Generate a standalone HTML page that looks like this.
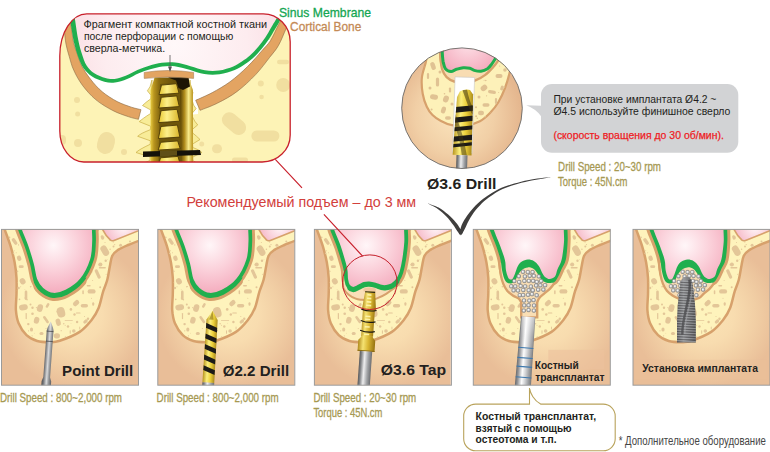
<!DOCTYPE html>
<html><head><meta charset="utf-8"><title>Sinus lift</title>
<style>html,body{margin:0;padding:0;background:#fff}svg{display:block}text{font-family:"Liberation Sans",sans-serif}</style>
</head><body>
<svg width="770" height="452" viewBox="0 0 770 452">
<defs>
<radialGradient id="gTan" gradientUnits="userSpaceOnUse" cx="72" cy="85" r="73">
 <stop offset="0" stop-color="#fbe4b5"/><stop offset="0.4" stop-color="#f8dcaf"/><stop offset="0.7" stop-color="#f1cea4"/><stop offset="1" stop-color="#e9be98"/>
</radialGradient>
<linearGradient id="gSteelD" x1="0" x2="1" y1="0" y2="0">
 <stop offset="0" stop-color="#4d4e50"/><stop offset="0.2" stop-color="#77787b"/><stop offset="0.5" stop-color="#d9dadb"/><stop offset="0.75" stop-color="#8e9093"/><stop offset="1" stop-color="#5f6062"/>
</linearGradient>
<radialGradient id="gPink" gradientUnits="userSpaceOnUse" cx="52" cy="16" r="52">
 <stop offset="0" stop-color="#fff6f8"/><stop offset="0.45" stop-color="#fbd3dc"/><stop offset="1" stop-color="#f3a6b9"/>
</radialGradient>
<radialGradient id="gPink2" gradientUnits="userSpaceOnUse" cx="122" cy="-2" r="22">
 <stop offset="0" stop-color="#fff6f8"/><stop offset="1" stop-color="#f5b4c4"/>
</radialGradient>
<linearGradient id="gSteel" x1="0" x2="1" y1="0" y2="0">
 <stop offset="0" stop-color="#58595b"/><stop offset="0.15" stop-color="#808285"/><stop offset="0.42" stop-color="#eeeeef"/><stop offset="0.72" stop-color="#a1a3a6"/><stop offset="1" stop-color="#6d6e71"/>
</linearGradient>
<linearGradient id="gOst" x1="0" x2="1" y1="0" y2="0">
 <stop offset="0" stop-color="#67686a"/><stop offset="0.16" stop-color="#97989b"/><stop offset="0.4" stop-color="#fdfdfd"/><stop offset="0.58" stop-color="#d6d7d9"/><stop offset="0.8" stop-color="#a1a3a6"/><stop offset="1" stop-color="#747577"/>
</linearGradient>
<linearGradient id="gFade" x1="0" x2="0" y1="0" y2="1">
 <stop offset="0" stop-color="#fff" stop-opacity="0.5"/><stop offset="0.45" stop-color="#fff" stop-opacity="0.15"/><stop offset="1" stop-color="#fff" stop-opacity="0"/>
</linearGradient>
<linearGradient id="gGold" x1="0" x2="1" y1="0" y2="0">
 <stop offset="0" stop-color="#b08a1c"/><stop offset="0.3" stop-color="#f5e272"/><stop offset="0.6" stop-color="#d9b632"/><stop offset="1" stop-color="#96720f"/>
</linearGradient>
<linearGradient id="gYel" x1="0" x2="1" y1="0" y2="0">
 <stop offset="0" stop-color="#b8951f"/><stop offset="0.35" stop-color="#fbee7c"/><stop offset="0.65" stop-color="#ecd03a"/><stop offset="1" stop-color="#a98a1c"/>
</linearGradient>
<linearGradient id="gImp" x1="0" x2="1" y1="0" y2="0">
 <stop offset="0" stop-color="#606062"/><stop offset="0.35" stop-color="#9a9b9d"/><stop offset="0.7" stop-color="#747476"/><stop offset="1" stop-color="#545456"/>
</linearGradient>
<radialGradient id="gGran" cx="0.4" cy="0.4" r="0.7">
 <stop offset="0" stop-color="#ffffff"/><stop offset="1" stop-color="#a9abae"/>
</radialGradient>
<clipPath id="pc"><rect x="0" y="0" width="137.0" height="155.8"/></clipPath>
<clipPath id="boneClip"><path d="M2.5,-3.0 C2.6,-2.4 2.2,-2.9 3.3,0.4 C4.4,3.7 7.5,11.4 9.1,16.8 C10.7,22.2 12.1,27.5 13.1,32.8 C14.1,38.1 14.7,43.3 15.0,48.6 C15.3,53.9 15.1,59.3 15.0,64.6 C14.9,69.9 14.1,75.7 14.4,80.6 C14.8,85.5 15.3,89.6 17.1,93.8 C18.9,98.0 21.9,102.8 25.0,105.8 C28.1,108.8 31.8,110.4 35.7,111.6 C39.6,112.8 44.5,112.8 48.3,112.8 C52.1,112.8 53.3,113.1 58.3,111.4 C63.3,109.7 72.9,106.0 78.2,102.5 C83.5,99.0 86.9,94.6 90.1,90.6 C93.2,86.6 95.2,83.4 97.1,78.6 C99.0,73.8 100.2,66.7 101.7,62.0 C103.2,57.3 104.7,54.5 105.8,50.4 C106.9,46.2 107.5,41.1 108.3,37.1 C109.1,33.1 109.4,29.1 110.8,26.3 C112.2,23.5 114.0,22.3 116.6,20.5 C119.2,18.7 122.8,17.2 126.5,15.6 C130.2,14.0 136.9,11.5 139.0,10.7 L139,-3 Z"/></clipPath>
<g id="base">
 <rect x="0" y="0" width="137.0" height="155.8" fill="url(#gTan)"/>
 <path d="M2.5,-3.0 C2.6,-2.4 2.2,-2.9 3.3,0.4 C4.4,3.7 7.5,11.4 9.1,16.8 C10.7,22.2 12.1,27.5 13.1,32.8 C14.1,38.1 14.7,43.3 15.0,48.6 C15.3,53.9 15.1,59.3 15.0,64.6 C14.9,69.9 14.1,75.7 14.4,80.6 C14.8,85.5 15.3,89.6 17.1,93.8 C18.9,98.0 21.9,102.8 25.0,105.8 C28.1,108.8 31.8,110.4 35.7,111.6 C39.6,112.8 44.5,112.8 48.3,112.8 C52.1,112.8 53.3,113.1 58.3,111.4 C63.3,109.7 72.9,106.0 78.2,102.5 C83.5,99.0 86.9,94.6 90.1,90.6 C93.2,86.6 95.2,83.4 97.1,78.6 C99.0,73.8 100.2,66.7 101.7,62.0 C103.2,57.3 104.7,54.5 105.8,50.4 C106.9,46.2 107.5,41.1 108.3,37.1 C109.1,33.1 109.4,29.1 110.8,26.3 C112.2,23.5 114.0,22.3 116.6,20.5 C119.2,18.7 122.8,17.2 126.5,15.6 C130.2,14.0 136.9,11.5 139.0,10.7 L139,-3 Z" fill="#fef3bc" stroke="#d7a16c" stroke-width="2.5"/>
 <g clip-path="url(#boneClip)" fill="#e3c698">
 <rect x="11.4" y="8.3" width="3.4" height="7.5" rx="1.7" transform="rotate(-35 13.1 12.1)"/>
<rect x="15.5" y="26.1" width="4.2" height="5.5" rx="2.1" transform="rotate(-20 17.6 28.8)"/>
<rect x="17.2" y="35.9" width="5.0" height="2.8" rx="1.4" transform="rotate(0 19.7 37.3)"/>
<rect x="18.4" y="48.6" width="5.5" height="6.5" rx="2.8" transform="rotate(-30 21.1 51.9)"/>
<rect x="23.2" y="61.2" width="2.6" height="9.5" rx="1.3" transform="rotate(0 24.5 65.9)"/>
<rect x="17.5" y="75.1" width="8.8" height="5.7" rx="2.9" transform="rotate(-10 21.9 77.9)"/>
<rect x="35.6" y="74.8" width="5.7" height="7.8" rx="2.9" transform="rotate(15 38.5 78.7)"/>
<rect x="55.5" y="77.7" width="8.0" height="10.4" rx="4.0" transform="rotate(-15 59.5 82.9)"/>
<rect x="71.1" y="71.4" width="7.0" height="4.6" rx="2.3" transform="rotate(-45 74.6 73.7)"/>
<rect x="79.2" y="74.5" width="7.3" height="3.6" rx="1.8" transform="rotate(0 82.9 76.3)"/>
<rect x="32.5" y="87.5" width="5.2" height="6.8" rx="2.6" transform="rotate(15 35.1 90.9)"/>
<rect x="43.2" y="86.1" width="2.6" height="8.3" rx="1.3" transform="rotate(-35 44.5 90.3)"/>
<rect x="54.4" y="89.2" width="4.7" height="7.3" rx="2.4" transform="rotate(-15 56.7 92.9)"/>
<rect x="52.3" y="103.8" width="6.2" height="5.2" rx="2.6" transform="rotate(0 55.4 106.4)"/>
<rect x="70.5" y="99.8" width="3.6" height="3.6" rx="1.8" transform="rotate(0 72.3 101.6)"/>
<rect x="90.7" y="72.8" width="2.0" height="3.6" rx="1.0" transform="rotate(0 91.7 74.6)"/>
<rect x="74.4" y="83.0" width="4.7" height="1.2" rx="0.6" transform="rotate(0 76.7 83.6)"/>
<rect x="63.1" y="90.5" width="8.3" height="0.8" rx="0.4" transform="rotate(0 67.3 90.9)"/>
<rect x="24.1" y="83.6" width="1.2" height="6.2" rx="0.6" transform="rotate(0 24.7 86.7)"/>
<rect x="68.2" y="100.8" width="1.0" height="3.6" rx="0.5" transform="rotate(0 68.7 102.6)"/>
<rect x="77.8" y="97.1" width="0.9" height="3.0" rx="0.5" transform="rotate(0 78.2 98.6)"/>
<rect x="100.0" y="15.8" width="6.5" height="11.0" rx="3.2" transform="rotate(-30 103.3 21.3)"/>
<rect x="99.4" y="5.8" width="3.0" height="4.5" rx="1.5" transform="rotate(-20 100.9 8.0)"/>
<rect x="97.4" y="37.6" width="7.0" height="1.6" rx="0.8" transform="rotate(0 100.9 38.4)"/>
<rect x="94.6" y="39.6" width="3.2" height="10.0" rx="1.6" transform="rotate(-25 96.2 44.6)"/>
<rect x="86.1" y="59.8" width="8.0" height="4.4" rx="2.2" transform="rotate(0 90.1 62.0)"/>
<rect x="85.2" y="55.5" width="4.0" height="1.5" rx="0.8" transform="rotate(0 87.2 56.2)"/>
<rect x="80.8" y="60.8" width="1.5" height="4.0" rx="0.8" transform="rotate(0 81.5 62.8)"/>
<rect x="44.8" y="73.5" width="2.5" height="5.0" rx="1.2" transform="rotate(30 46.0 76.0)"/>
<rect x="28.5" y="98.0" width="3.0" height="4.0" rx="1.5" transform="rotate(0 30.0 100.0)"/>
<rect x="82.5" y="89.5" width="3.0" height="5.0" rx="1.5" transform="rotate(50 84.0 92.0)"/>
<rect x="38.0" y="102.5" width="4.0" height="3.0" rx="1.5" transform="rotate(0 40.0 104.0)"/>
<circle cx="17.1" cy="58.6" r="1.2"/>
<circle cx="29.0" cy="75.2" r="1.0"/>
<circle cx="69.4" cy="80.0" r="1.3"/>
<circle cx="73.0" cy="85.1" r="1.2"/>
<circle cx="31.0" cy="78.4" r="1.2"/>
<circle cx="31.0" cy="84.3" r="1.3"/>
<circle cx="26.8" cy="94.7" r="1.2"/>
<circle cx="75.6" cy="92.6" r="1.2"/>
<circle cx="86.5" cy="89.3" r="1.2"/>
<circle cx="66.5" cy="97.1" r="1.2"/>
<circle cx="98.9" cy="35.1" r="2.0"/>
<circle cx="119.1" cy="15.8" r="1.5"/>
<circle cx="112.0" cy="17.2" r="1.0"/>
<circle cx="128.5" cy="12.2" r="1.0"/>
<circle cx="104.2" cy="31.3" r="1.2"/>
<circle cx="98.7" cy="57.8" r="1.0"/>
<circle cx="8.0" cy="8.0" r="0.8"/>
<circle cx="12.0" cy="24.0" r="0.8"/>
<circle cx="16.0" cy="42.0" r="0.8"/>
<circle cx="18.0" cy="70.0" r="0.8"/>
<circle cx="63.8" cy="62.7" r="0.6"/>
<circle cx="63.7" cy="95.8" r="0.5"/>
<circle cx="29.0" cy="57.3" r="0.7"/>
<circle cx="108.1" cy="10.5" r="0.5"/>
<circle cx="23.4" cy="60.3" r="0.4"/>
<circle cx="82.4" cy="44.4" r="0.6"/>
<circle cx="90.0" cy="68.9" r="0.5"/>
<circle cx="86.0" cy="93.2" r="0.4"/>
<circle cx="12.7" cy="21.3" r="0.5"/>
<circle cx="83.0" cy="87.1" r="0.5"/>
<circle cx="62.3" cy="94.4" r="0.7"/>
<circle cx="35.4" cy="32.9" r="0.4"/>
<circle cx="91.1" cy="51.2" r="0.5"/>
<circle cx="57.9" cy="61.7" r="0.4"/>
<circle cx="97.0" cy="35.3" r="0.5"/>
<circle cx="71.7" cy="3.3" r="0.7"/>
<circle cx="104.6" cy="44.8" r="0.5"/>
<circle cx="55.2" cy="107.3" r="0.4"/>
<circle cx="32.8" cy="103.8" r="0.4"/>
<circle cx="66.1" cy="109.8" r="0.6"/>
<circle cx="59.6" cy="63.4" r="0.5"/>
<circle cx="106.2" cy="30.2" r="0.4"/>
<circle cx="45.5" cy="1.7" r="0.6"/>
<circle cx="103.5" cy="13.2" r="0.5"/>
<circle cx="96.9" cy="1.2" r="0.6"/>
<circle cx="108.6" cy="19.9" r="0.7"/>
<circle cx="29.5" cy="57.0" r="0.5"/>
<circle cx="59.5" cy="43.0" r="0.6"/>
<circle cx="59.7" cy="23.8" r="0.5"/>
<circle cx="117.4" cy="109.2" r="0.7"/>
<circle cx="44.5" cy="99.1" r="0.5"/>
<circle cx="29.3" cy="111.5" r="0.7"/>
<circle cx="88.4" cy="11.2" r="0.5"/>
<circle cx="32.7" cy="28.9" r="0.7"/>
<circle cx="47.8" cy="33.2" r="0.4"/>
<circle cx="14.7" cy="23.4" r="0.5"/>
<circle cx="7.0" cy="41.3" r="0.7"/>
<circle cx="63.9" cy="107.4" r="0.6"/>
<circle cx="113.2" cy="15.2" r="0.6"/>
<circle cx="28.8" cy="17.3" r="0.5"/>
<circle cx="111.3" cy="27.9" r="0.5"/>
<circle cx="25.6" cy="70.4" r="0.7"/>
<circle cx="30.6" cy="106.4" r="0.6"/>
<circle cx="83.5" cy="47.2" r="0.4"/>
<circle cx="19.2" cy="57.4" r="0.5"/>
<circle cx="36.0" cy="78.9" r="0.5"/>
<circle cx="59.7" cy="101.3" r="0.6"/>
<circle cx="43.1" cy="19.6" r="0.4"/>
<circle cx="21.4" cy="53.7" r="0.7"/>
<circle cx="84.9" cy="31.4" r="0.5"/>
<circle cx="102.4" cy="7.7" r="0.6"/>
<circle cx="62.9" cy="6.8" r="0.5"/>
<circle cx="41.7" cy="59.5" r="0.5"/>
<circle cx="17.0" cy="15.5" r="0.6"/>
<circle cx="132.5" cy="73.6" r="0.7"/>
<circle cx="81.0" cy="15.7" r="0.4"/>
<circle cx="125.1" cy="53.2" r="0.5"/>
<circle cx="96.1" cy="107.8" r="0.4"/>
<circle cx="82.8" cy="8.4" r="0.4"/>
<circle cx="100.0" cy="35.7" r="0.4"/>
<circle cx="14.8" cy="61.2" r="0.4"/>
<circle cx="122.0" cy="82.6" r="0.5"/>
<circle cx="108.1" cy="102.5" r="0.5"/>
<circle cx="16.0" cy="53.0" r="0.4"/>
<circle cx="118.2" cy="46.7" r="0.4"/>
<circle cx="117.3" cy="64.2" r="0.7"/>
<circle cx="91.1" cy="42.5" r="0.4"/>
<circle cx="84.2" cy="9.0" r="0.4"/>
<circle cx="134.1" cy="98.5" r="0.5"/>
<circle cx="55.5" cy="82.3" r="0.7"/>
<circle cx="64.5" cy="51.8" r="0.7"/>
<circle cx="15.9" cy="84.0" r="0.4"/>
<circle cx="45.3" cy="9.8" r="0.4"/>
<circle cx="34.9" cy="78.2" r="0.6"/>
<circle cx="106.4" cy="73.9" r="0.6"/>
<circle cx="38.3" cy="1.3" r="0.5"/>
<circle cx="23.6" cy="68.5" r="0.7"/>
<circle cx="27.0" cy="101.4" r="0.6"/>
<circle cx="69.8" cy="27.0" r="0.6"/>
<circle cx="91.6" cy="22.2" r="0.6"/>
<circle cx="109.5" cy="84.5" r="0.5"/>
<circle cx="119.4" cy="43.1" r="0.7"/>
<circle cx="124.7" cy="23.5" r="0.5"/>
<circle cx="69.5" cy="93.8" r="0.4"/>
<circle cx="97.5" cy="106.4" r="0.5"/>
<circle cx="111.8" cy="12.6" r="0.6"/>
<circle cx="40.8" cy="24.0" r="0.6"/>
<circle cx="54.7" cy="58.2" r="0.5"/>
<circle cx="98.1" cy="94.3" r="0.7"/>
<circle cx="63.8" cy="8.4" r="0.4"/>
 </g>
 <path d="M100.5,-3 L101,0 C103,4 107,9 109,10.8 C110,11.6 111,11.6 112.5,11 L139,0.5 L139,-3 Z" fill="url(#gPink2)" stroke="#d7a16c" stroke-width="1.6"/>
</g>
<clipPath id="botA"><rect x="32" y="48" width="53" height="36"/></clipPath>
<g id="sinA">
 <path d="M17.7,-4.0 C17.9,-3.2 17.4,-2.9 18.6,0.6 C19.8,4.1 23.1,11.4 25.1,17.1 C27.1,22.8 29.0,29.3 30.5,34.8 C32.0,40.3 32.2,46.1 33.9,50.3 C35.6,54.5 37.5,57.5 40.5,60.0 C43.5,62.5 47.5,65.0 51.6,65.3 C55.7,65.6 60.1,64.6 64.9,62.1 C69.7,59.6 76.0,55.6 80.2,50.3 C84.5,45.0 88.4,36.7 90.4,30.4 C92.5,24.1 92.2,17.7 92.5,12.7 C92.8,7.7 92.3,3.4 92.3,0.6 C92.3,-2.2 92.3,-3.2 92.3,-4.0 Z" fill="none" stroke="#d7a16c" stroke-width="9.4"/>
 <g clip-path="url(#botA)"><path d="M17.7,-4.0 C17.9,-3.2 17.4,-2.9 18.6,0.6 C19.8,4.1 23.1,11.4 25.1,17.1 C27.1,22.8 29.0,29.3 30.5,34.8 C32.0,40.3 32.2,46.1 33.9,50.3 C35.6,54.5 37.5,57.5 40.5,60.0 C43.5,62.5 47.5,65.0 51.6,65.3 C55.7,65.6 60.1,64.6 64.9,62.1 C69.7,59.6 76.0,55.6 80.2,50.3 C84.5,45.0 88.4,36.7 90.4,30.4 C92.5,24.1 92.2,17.7 92.5,12.7 C92.8,7.7 92.3,3.4 92.3,0.6 C92.3,-2.2 92.3,-3.2 92.3,-4.0 Z" fill="none" stroke="#d7a16c" stroke-width="9.4" transform="translate(0,1.6)"/>
 <path d="M17.7,-4.0 C17.9,-3.2 17.4,-2.9 18.6,0.6 C19.8,4.1 23.1,11.4 25.1,17.1 C27.1,22.8 29.0,29.3 30.5,34.8 C32.0,40.3 32.2,46.1 33.9,50.3 C35.6,54.5 37.5,57.5 40.5,60.0 C43.5,62.5 47.5,65.0 51.6,65.3 C55.7,65.6 60.1,64.6 64.9,62.1 C69.7,59.6 76.0,55.6 80.2,50.3 C84.5,45.0 88.4,36.7 90.4,30.4 C92.5,24.1 92.2,17.7 92.5,12.7 C92.8,7.7 92.3,3.4 92.3,0.6 C92.3,-2.2 92.3,-3.2 92.3,-4.0 Z" fill="none" stroke="#20af4e" stroke-width="3.7" transform="translate(0,1.5)"/></g>
 <path d="M17.7,-4.0 C17.9,-3.2 17.4,-2.9 18.6,0.6 C19.8,4.1 23.1,11.4 25.1,17.1 C27.1,22.8 29.0,29.3 30.5,34.8 C32.0,40.3 32.2,46.1 33.9,50.3 C35.6,54.5 37.5,57.5 40.5,60.0 C43.5,62.5 47.5,65.0 51.6,65.3 C55.7,65.6 60.1,64.6 64.9,62.1 C69.7,59.6 76.0,55.6 80.2,50.3 C84.5,45.0 88.4,36.7 90.4,30.4 C92.5,24.1 92.2,17.7 92.5,12.7 C92.8,7.7 92.3,3.4 92.3,0.6 C92.3,-2.2 92.3,-3.2 92.3,-4.0 Z" fill="url(#gPink)" stroke="#20af4e" stroke-width="3.7"/>
</g>
<clipPath id="botB"><rect x="33" y="46" width="52" height="30"/></clipPath>
<g id="sinB">
 <path d="M17.9,-4.0 C17.9,-3.2 16.8,-2.9 17.9,0.6 C19.0,4.1 22.4,11.4 24.4,17.1 C26.4,22.8 28.6,30.6 29.8,34.8 C31.0,39.0 31.0,39.5 31.3,42.1 C31.6,44.7 31.4,47.7 31.8,50.2 C32.2,52.7 32.8,55.4 34.0,56.9 C35.2,58.4 37.1,59.4 38.9,59.4 C40.7,59.4 43.2,57.7 45.0,56.9 C46.8,56.1 48.2,55.0 49.8,54.5 C51.4,54.0 52.9,53.8 54.7,53.9 C56.5,54.0 58.8,54.5 60.8,55.1 C62.8,55.7 65.1,56.9 66.9,57.3 C68.7,57.7 70.0,57.8 71.8,57.5 C73.6,57.2 75.8,56.9 77.8,55.7 C79.8,54.5 82.1,52.3 83.6,50.2 C85.1,48.1 86.0,46.2 87.0,42.9 C88.0,39.6 88.9,35.4 89.7,30.4 C90.5,25.4 91.5,17.7 91.8,12.7 C92.1,7.7 91.6,3.4 91.6,0.6 C91.6,-2.2 91.6,-3.2 91.6,-4.0 Z" fill="none" stroke="#d7a16c" stroke-width="9.4"/>
 <path d="M28.0,40.0 C28.1,41.7 28.3,46.9 28.5,50.0 C28.7,53.1 28.2,56.4 29.1,58.9 C30.0,61.4 32.0,63.3 34.0,65.0 C36.0,66.7 39.1,68.3 41.3,69.2 C43.5,70.1 45.1,70.1 47.4,70.4 C49.7,70.7 52.6,71.0 55.0,70.8 C57.4,70.6 59.2,70.3 62.0,69.2 C64.8,68.1 68.5,66.5 71.8,64.4 C75.0,62.3 79.1,59.1 81.5,56.4 C83.9,53.7 84.9,50.7 86.0,48.0 C87.1,45.3 87.7,41.3 88.0,40.0 Z" fill="#f9dfb8" stroke="#d7a16c" stroke-width="2"/>
 <g clip-path="url(#botB)"><path d="M17.9,-4.0 C17.9,-3.2 16.8,-2.9 17.9,0.6 C19.0,4.1 22.4,11.4 24.4,17.1 C26.4,22.8 28.6,30.6 29.8,34.8 C31.0,39.0 31.0,39.5 31.3,42.1 C31.6,44.7 31.4,47.7 31.8,50.2 C32.2,52.7 32.8,55.4 34.0,56.9 C35.2,58.4 37.1,59.4 38.9,59.4 C40.7,59.4 43.2,57.7 45.0,56.9 C46.8,56.1 48.2,55.0 49.8,54.5 C51.4,54.0 52.9,53.8 54.7,53.9 C56.5,54.0 58.8,54.5 60.8,55.1 C62.8,55.7 65.1,56.9 66.9,57.3 C68.7,57.7 70.0,57.8 71.8,57.5 C73.6,57.2 75.8,56.9 77.8,55.7 C79.8,54.5 82.1,52.3 83.6,50.2 C85.1,48.1 86.0,46.2 87.0,42.9 C88.0,39.6 88.9,35.4 89.7,30.4 C90.5,25.4 91.5,17.7 91.8,12.7 C92.1,7.7 91.6,3.4 91.6,0.6 C91.6,-2.2 91.6,-3.2 91.6,-4.0 Z" fill="none" stroke="#20af4e" stroke-width="3.8" transform="translate(0,1.5)"/></g>
 <path d="M17.9,-4.0 C17.9,-3.2 16.8,-2.9 17.9,0.6 C19.0,4.1 22.4,11.4 24.4,17.1 C26.4,22.8 28.6,30.6 29.8,34.8 C31.0,39.0 31.0,39.5 31.3,42.1 C31.6,44.7 31.4,47.7 31.8,50.2 C32.2,52.7 32.8,55.4 34.0,56.9 C35.2,58.4 37.1,59.4 38.9,59.4 C40.7,59.4 43.2,57.7 45.0,56.9 C46.8,56.1 48.2,55.0 49.8,54.5 C51.4,54.0 52.9,53.8 54.7,53.9 C56.5,54.0 58.8,54.5 60.8,55.1 C62.8,55.7 65.1,56.9 66.9,57.3 C68.7,57.7 70.0,57.8 71.8,57.5 C73.6,57.2 75.8,56.9 77.8,55.7 C79.8,54.5 82.1,52.3 83.6,50.2 C85.1,48.1 86.0,46.2 87.0,42.9 C88.0,39.6 88.9,35.4 89.7,30.4 C90.5,25.4 91.5,17.7 91.8,12.7 C92.1,7.7 91.6,3.4 91.6,0.6 C91.6,-2.2 91.6,-3.2 91.6,-4.0 Z" fill="url(#gPink)" stroke="#20af4e" stroke-width="3.8"/>
</g>
<g id="gr"><rect x="-1.7" y="-1.7" width="3.4" height="3.4" rx="1" fill="url(#gGran)" stroke="#7b7d80" stroke-width="0.7"/></g>

<radialGradient id="gCallPink" gradientUnits="userSpaceOnUse" cx="175" cy="45" r="120">
 <stop offset="0" stop-color="#fff8f9"/><stop offset="0.6" stop-color="#fdecef"/><stop offset="1" stop-color="#fadbe1"/>
</radialGradient>
<linearGradient id="gTapBody" gradientUnits="userSpaceOnUse" x1="150.6" x2="192.9" y1="0" y2="0">
 <stop offset="0" stop-color="#e6c93e"/><stop offset="0.08" stop-color="#b8941e"/><stop offset="0.2" stop-color="#8a6c10"/><stop offset="0.7" stop-color="#5a4406"/><stop offset="0.8" stop-color="#b08c1c"/><stop offset="0.9" stop-color="#f9ec8c"/><stop offset="1" stop-color="#b8921c"/>
</linearGradient>
<linearGradient id="gCup" x1="0" x2="1" y1="0" y2="0">
 <stop offset="0" stop-color="#e8c832"/><stop offset="0.4" stop-color="#fdf08a"/><stop offset="1" stop-color="#d9b428"/>
</linearGradient>
<radialGradient id="gTanC" gradientUnits="userSpaceOnUse" cx="455" cy="115" r="66">
 <stop offset="0" stop-color="#fbe5bd"/><stop offset="0.6" stop-color="#f1cfa6"/><stop offset="1" stop-color="#e5b78f"/>
</radialGradient>
<radialGradient id="gPinkC" gradientUnits="userSpaceOnUse" cx="468" cy="42" r="34">
 <stop offset="0" stop-color="#fde3e9"/><stop offset="1" stop-color="#f4a9bb"/>
</radialGradient>
</defs>
<rect width="770" height="452" fill="#fff"/>
<g transform="translate(1.5,229.4)"><g clip-path="url(#pc)"><rect x="0" y="0" width="3" height="155.8" fill="#e9be98"/><use href="#base"/><use href="#sinA"/>
<g transform="translate(49.3,92) rotate(4.2)">
 <path d="M0,0 L2.6,6 L3.4,9 L3.4,56 L4.8,60 L4.8,66 L-4.8,66 L-4.8,60 L-3.4,56 L-3.4,9 L-2.6,6 Z" fill="url(#gSteelD)"/>
 <path d="M-3.4,10 H3.4 M-3.4,20 H3.4" stroke="#444" stroke-width="0.7"/>
</g></g><rect x="0" y="0" width="137.0" height="155.8" fill="none" stroke="#9a9a9a" stroke-width="1"/></g>
<g transform="translate(157.8,229.4)"><g clip-path="url(#pc)"><rect x="0" y="0" width="3" height="155.8" fill="#e9be98"/><use href="#base"/><use href="#sinA"/>
<g transform="translate(54.8,81.4) rotate(3.4)"><path d="M0,0 L5.6,9 L5.9,72 L-5.9,72 L-5.6,9 Z" fill="url(#gYel)"/><clipPath id="dc72"><path d="M0,0 L5.6,9 L5.9,72 L-5.9,72 L-5.6,9 Z"/></clipPath><g clip-path="url(#dc72)" fill="#1c1a17"><path d="M-7,12.0 L7,17.2 L7,22.0 L-7,16.8 Z"/><path d="M-7,22.6 L7,27.8 L7,32.6 L-7,27.400000000000002 Z"/><path d="M-7,33.2 L7,38.400000000000006 L7,43.2 L-7,38.0 Z"/><path d="M-7,43.8 L7,49.0 L7,53.8 L-7,48.599999999999994 Z"/><path d="M-7,54.4 L7,59.6 L7,64.4 L-7,59.199999999999996 Z"/><path d="M0,0 L1.5,9 L-3,9Z" fill="#8a6d10" opacity="0.6"/></g><rect x="-5.9" y="72" width="11.8" height="5" fill="url(#gSteel)"/></g></g><rect x="0" y="0" width="137.0" height="155.8" fill="none" stroke="#9a9a9a" stroke-width="1"/></g>
<g transform="translate(314.4,229.4)"><g clip-path="url(#pc)"><rect x="0" y="0" width="3" height="155.8" fill="#e9be98"/><use href="#base" transform="translate(-0.7,0)"/><use href="#sinB"/>
<path d="M49,59 Q55.4,57.2 61.6,59 L61.4,62 L49.2,62 Z" fill="#efc7a0"/>
<g transform="translate(55.8,62.1) rotate(4)">
<path d="M-5,0 L5,0 L7,18 L6,19 L6,45 L-6,45 L-6,19 L-7,18 Z" fill="url(#gGold)"/>
<path d="M-2.5,3.5 h4 M-2.6,7 h4.2 M-2.8,10.5 h4.6 M-3,14 h5 M-3,25 h5 M-3,28 h5 M-3,35.5 h5 M-3,43 h5" stroke="#fff7b0" stroke-width="1.6" opacity="0.9"/>
<path d="M-5,0.6 H5" stroke="#2a2412" stroke-width="1.2"/>
<path d="M-7.6,18.2 q7.6,2.4 15.2,0.3 M-7.4,29.6 q7.4,2.4 14.8,0.3 M-7.4,39.4 q7.4,2.4 14.8,0.3" fill="none" stroke="#1a1710" stroke-width="1.1"/>
<path d="M-6,46 Q-6,44.5 -4.5,44.5 L4.5,44.5 Q6,44.5 6,46 L8.5,49 L8.5,60 L-8.5,60 L-8.5,49 Z" fill="url(#gGold)"/>
<path d="M-8.5,59.5 H8.5" stroke="#8a6a12" stroke-width="1"/>
<rect x="-6.2" y="60" width="12.4" height="40" fill="url(#gSteel)"/>
</g>
<circle cx="55.4" cy="52.8" r="27.3" fill="none" stroke="#c4202b" stroke-width="1"/></g><rect x="0" y="0" width="137.0" height="155.8" fill="none" stroke="#9a9a9a" stroke-width="1"/></g>
<g transform="translate(473.3,229.4)"><g clip-path="url(#pc)"><rect x="0" y="0" width="3" height="155.8" fill="#e9be98"/><use href="#base"/><path d="M16.6,-4.0 C16.6,-3.2 15.5,-2.9 16.6,0.6 C17.7,4.1 21.3,12.1 23.1,17.1 C24.9,22.1 26.3,26.7 27.2,30.6 C28.1,34.5 28.1,37.5 28.7,40.5 C29.3,43.5 29.9,46.4 30.7,48.5 C31.5,50.6 32.5,52.1 33.6,53.0 C34.8,53.9 36.3,54.2 37.6,54.0 C38.9,53.8 40.4,52.9 41.6,51.5 C42.8,50.1 43.4,47.3 44.6,45.5 C45.8,43.7 47.0,41.8 48.6,40.5 C50.2,39.2 52.5,38.2 54.5,38.0 C56.5,37.8 58.8,38.4 60.5,39.5 C62.2,40.6 63.2,42.7 64.5,44.5 C65.8,46.3 67.2,49.1 68.5,50.5 C69.8,51.9 71.0,52.5 72.5,53.0 C74.0,53.5 75.9,53.7 77.4,53.5 C78.9,53.3 80.4,53.2 81.7,52.0 C83.0,50.8 84.1,48.6 85.2,46.5 C86.3,44.4 87.1,42.2 88.3,39.5 C89.5,36.8 91.5,34.9 92.5,30.4 C93.5,25.9 94.1,17.7 94.3,12.7 C94.6,7.7 94.2,3.4 94.2,0.6 C94.1,-2.2 94.2,-3.2 94.2,-4.0 Z" fill="none" stroke="#d7a16c" stroke-width="6"/>
 <path d="M26.0,32.0 C26.2,34.2 26.8,41.8 27.5,45.5 C28.2,49.2 28.9,51.9 30.0,54.5 C31.1,57.1 32.2,59.4 33.9,61.4 C35.5,63.4 38.0,65.1 39.9,66.4 C41.8,67.7 44.2,68.1 45.5,69.2 C46.8,70.3 47.5,72.4 47.9,73.0 L47.9,88 L63.9,88 L63.9,73 L63.9,73.0 C64.2,72.3 64.8,70.0 66.0,68.6 C67.2,67.1 69.0,65.8 70.8,64.3 C72.5,62.8 74.9,61.0 76.5,59.4 C78.1,57.8 79.2,56.7 80.5,54.5 C81.8,52.3 83.4,48.8 84.5,46.0 C85.6,43.2 86.6,39.3 87.0,38.0 Z" fill="#f9deb4" stroke="#d7a16c" stroke-width="2.4"/>
 <path d="M16.6,-4.0 C16.6,-3.2 15.5,-2.9 16.6,0.6 C17.7,4.1 21.3,12.1 23.1,17.1 C24.9,22.1 26.3,26.7 27.2,30.6 C28.1,34.5 28.1,37.5 28.7,40.5 C29.3,43.5 29.9,46.4 30.7,48.5 C31.5,50.6 32.5,52.1 33.6,53.0 C34.8,53.9 36.3,54.2 37.6,54.0 C38.9,53.8 40.4,52.9 41.6,51.5 C42.8,50.1 43.4,47.3 44.6,45.5 C45.8,43.7 47.0,41.8 48.6,40.5 C50.2,39.2 52.5,38.2 54.5,38.0 C56.5,37.8 58.8,38.4 60.5,39.5 C62.2,40.6 63.2,42.7 64.5,44.5 C65.8,46.3 67.2,49.1 68.5,50.5 C69.8,51.9 71.0,52.5 72.5,53.0 C74.0,53.5 75.9,53.7 77.4,53.5 C78.9,53.3 80.4,53.2 81.7,52.0 C83.0,50.8 84.1,48.6 85.2,46.5 C86.3,44.4 87.1,42.2 88.3,39.5 C89.5,36.8 91.5,34.9 92.5,30.4 C93.5,25.9 94.1,17.7 94.3,12.7 C94.6,7.7 94.2,3.4 94.2,0.6 C94.1,-2.2 94.2,-3.2 94.2,-4.0 Z" fill="#20af4e"/>
 <path d="M20.6,-4.0 C20.6,-3.2 19.5,-2.9 20.6,0.6 C21.7,4.1 25.3,12.1 27.1,17.1 C28.9,22.1 30.7,26.7 31.6,30.6 C32.6,34.5 32.1,37.7 32.6,40.5 C33.1,43.3 33.9,45.9 34.6,47.5 C35.3,49.1 35.9,49.7 36.6,50.0 C37.4,50.3 38.3,50.4 39.1,49.5 C39.9,48.6 40.7,46.7 41.6,44.5 C42.5,42.3 43.4,38.6 44.6,36.5 C45.8,34.4 47.0,33.2 48.6,32.1 C50.2,31.0 52.5,30.2 54.5,30.1 C56.5,30.0 58.7,30.5 60.5,31.6 C62.3,32.7 64.0,34.4 65.5,36.5 C67.0,38.6 68.3,42.6 69.5,44.5 C70.7,46.4 71.3,47.2 72.5,48.0 C73.7,48.8 74.9,49.7 76.4,49.5 C77.9,49.3 80.4,48.7 81.7,47.0 C83.0,45.3 83.2,42.3 84.3,39.5 C85.4,36.7 87.2,34.9 88.3,30.4 C89.4,25.9 90.3,17.7 90.7,12.7 C91.0,7.7 90.5,3.4 90.5,0.6 C90.4,-2.2 90.5,-3.2 90.5,-4.0 Z" fill="url(#gPink)"/><use href="#gr" x="49.7" y="42.4"/><use href="#gr" x="54.6" y="42.7"/><use href="#gr" x="59.3" y="42.7"/><use href="#gr" x="45.5" y="46.9"/><use href="#gr" x="51.6" y="47.1"/><use href="#gr" x="56.4" y="46.4"/><use href="#gr" x="60.6" y="46.5"/><use href="#gr" x="65.5" y="47.0"/><use href="#gr" x="41.0" y="51.6"/><use href="#gr" x="45.9" y="52.6"/><use href="#gr" x="51.1" y="51.5"/><use href="#gr" x="55.6" y="51.5"/><use href="#gr" x="59.9" y="51.5"/><use href="#gr" x="63.5" y="52.5"/><use href="#gr" x="67.9" y="51.6"/><use href="#gr" x="38.0" y="56.9"/><use href="#gr" x="42.0" y="57.0"/><use href="#gr" x="47.4" y="56.6"/><use href="#gr" x="51.9" y="57.0"/><use href="#gr" x="57.6" y="57.1"/><use href="#gr" x="62.9" y="56.1"/><use href="#gr" x="67.1" y="55.9"/><use href="#gr" x="71.8" y="55.8"/><use href="#gr" x="40.3" y="61.0"/><use href="#gr" x="44.7" y="61.1"/><use href="#gr" x="50.0" y="60.6"/><use href="#gr" x="55.4" y="60.9"/><use href="#gr" x="59.5" y="60.9"/><use href="#gr" x="64.9" y="60.3"/><use href="#gr" x="70.1" y="60.2"/><use href="#gr" x="46.5" y="65.8"/><use href="#gr" x="49.9" y="65.7"/><use href="#gr" x="54.8" y="65.4"/><use href="#gr" x="58.7" y="64.7"/><use href="#gr" x="63.4" y="65.9"/><use href="#gr" x="50.7" y="71.1"/><use href="#gr" x="56.1" y="71.2"/><use href="#gr" x="60.3" y="70.7"/><use href="#gr" x="51.0" y="76.0"/><use href="#gr" x="55.3" y="75.9"/><use href="#gr" x="60.8" y="76.1"/><use href="#gr" x="50.5" y="81.2"/><use href="#gr" x="55.3" y="80.6"/><use href="#gr" x="60.6" y="81.2"/>
<g transform="translate(54.9,87.3) rotate(4.4)">
 <path d="M-7.15,0 L7.15,0 L8.1,72 L-8.1,72 Z" fill="url(#gOst)"/>
 <path d="M-6.2,0 L6.6,0 L7,45 L-6.8,45 Z" fill="url(#gFade)"/>
 <path d="M-7.6,31.3 H7.6 M-7.7,41.4 H7.7 M-7.8,50.2 H7.8 M-7.9,60.9 H7.9" stroke="#3f79ad" stroke-width="1.1"/>
</g>
<rect x="75" y="120.5" width="56" height="19.5" fill="#ecc19c" opacity="0.6"/></g><rect x="0" y="0" width="137.0" height="155.8" fill="none" stroke="#9a9a9a" stroke-width="1"/></g>
<g transform="translate(633.0,229.4)"><g clip-path="url(#pc)"><rect x="0" y="0" width="3" height="155.8" fill="#e9be98"/><use href="#base"/><path d="M16.6,-4.0 C16.6,-3.2 15.5,-2.9 16.6,0.6 C17.7,4.1 21.3,12.1 23.1,17.1 C24.9,22.1 26.3,26.7 27.2,30.6 C28.1,34.5 28.1,37.5 28.7,40.5 C29.3,43.5 29.9,46.4 30.7,48.5 C31.5,50.6 32.5,52.1 33.6,53.0 C34.8,53.9 36.3,54.2 37.6,54.0 C38.9,53.8 40.4,52.9 41.6,51.5 C42.8,50.1 43.4,47.3 44.6,45.5 C45.8,43.7 47.0,41.8 48.6,40.5 C50.2,39.2 52.5,38.2 54.5,38.0 C56.5,37.8 58.8,38.4 60.5,39.5 C62.2,40.6 63.2,42.7 64.5,44.5 C65.8,46.3 67.2,49.1 68.5,50.5 C69.8,51.9 71.0,52.5 72.5,53.0 C74.0,53.5 75.9,53.7 77.4,53.5 C78.9,53.3 80.4,53.2 81.7,52.0 C83.0,50.8 84.1,48.6 85.2,46.5 C86.3,44.4 87.1,42.2 88.3,39.5 C89.5,36.8 91.5,34.9 92.5,30.4 C93.5,25.9 94.1,17.7 94.3,12.7 C94.6,7.7 94.2,3.4 94.2,0.6 C94.1,-2.2 94.2,-3.2 94.2,-4.0 Z" fill="none" stroke="#d7a16c" stroke-width="6"/>
 <path d="M26.0,32.0 C26.2,34.2 26.8,41.8 27.5,45.5 C28.2,49.2 28.9,51.9 30.0,54.5 C31.1,57.1 32.2,59.4 33.9,61.4 C35.5,63.4 38.0,65.1 39.9,66.4 C41.8,67.7 43.8,68.5 45.5,69.2 C47.2,69.9 47.9,70.5 50.0,70.8 C52.1,71.1 55.3,71.2 58.0,70.8 C60.7,70.4 63.9,69.7 66.0,68.6 C68.1,67.5 69.0,65.8 70.8,64.3 C72.5,62.8 74.9,61.0 76.5,59.4 C78.1,57.8 79.2,56.7 80.5,54.5 C81.8,52.3 83.4,48.8 84.5,46.0 C85.6,43.2 86.6,39.3 87.0,38.0 Z" fill="#f9deb4" stroke="#d7a16c" stroke-width="2.4"/>
 <path d="M16.6,-4.0 C16.6,-3.2 15.5,-2.9 16.6,0.6 C17.7,4.1 21.3,12.1 23.1,17.1 C24.9,22.1 26.3,26.7 27.2,30.6 C28.1,34.5 28.1,37.5 28.7,40.5 C29.3,43.5 29.9,46.4 30.7,48.5 C31.5,50.6 32.5,52.1 33.6,53.0 C34.8,53.9 36.3,54.2 37.6,54.0 C38.9,53.8 40.4,52.9 41.6,51.5 C42.8,50.1 43.4,47.3 44.6,45.5 C45.8,43.7 47.0,41.8 48.6,40.5 C50.2,39.2 52.5,38.2 54.5,38.0 C56.5,37.8 58.8,38.4 60.5,39.5 C62.2,40.6 63.2,42.7 64.5,44.5 C65.8,46.3 67.2,49.1 68.5,50.5 C69.8,51.9 71.0,52.5 72.5,53.0 C74.0,53.5 75.9,53.7 77.4,53.5 C78.9,53.3 80.4,53.2 81.7,52.0 C83.0,50.8 84.1,48.6 85.2,46.5 C86.3,44.4 87.1,42.2 88.3,39.5 C89.5,36.8 91.5,34.9 92.5,30.4 C93.5,25.9 94.1,17.7 94.3,12.7 C94.6,7.7 94.2,3.4 94.2,0.6 C94.1,-2.2 94.2,-3.2 94.2,-4.0 Z" fill="#20af4e"/>
 <path d="M20.6,-4.0 C20.6,-3.2 19.5,-2.9 20.6,0.6 C21.7,4.1 25.3,12.1 27.1,17.1 C28.9,22.1 30.7,26.7 31.6,30.6 C32.6,34.5 32.1,37.7 32.6,40.5 C33.1,43.3 33.9,45.9 34.6,47.5 C35.3,49.1 35.9,49.7 36.6,50.0 C37.4,50.3 38.3,50.4 39.1,49.5 C39.9,48.6 40.7,46.7 41.6,44.5 C42.5,42.3 43.4,38.6 44.6,36.5 C45.8,34.4 47.0,33.2 48.6,32.1 C50.2,31.0 52.5,30.2 54.5,30.1 C56.5,30.0 58.7,30.5 60.5,31.6 C62.3,32.7 64.0,34.4 65.5,36.5 C67.0,38.6 68.3,42.6 69.5,44.5 C70.7,46.4 71.3,47.2 72.5,48.0 C73.7,48.8 74.9,49.7 76.4,49.5 C77.9,49.3 80.4,48.7 81.7,47.0 C83.0,45.3 83.2,42.3 84.3,39.5 C85.4,36.7 87.2,34.9 88.3,30.4 C89.4,25.9 90.3,17.7 90.7,12.7 C91.0,7.7 90.5,3.4 90.5,0.6 C90.4,-2.2 90.5,-3.2 90.5,-4.0 Z" fill="url(#gPink)"/><use href="#gr" x="49.7" y="42.4"/><use href="#gr" x="54.6" y="42.7"/><use href="#gr" x="59.3" y="42.7"/><use href="#gr" x="45.5" y="46.9"/><use href="#gr" x="51.6" y="47.1"/><use href="#gr" x="56.4" y="46.4"/><use href="#gr" x="60.6" y="46.5"/><use href="#gr" x="65.5" y="47.0"/><use href="#gr" x="41.0" y="51.6"/><use href="#gr" x="45.9" y="52.6"/><use href="#gr" x="51.1" y="51.5"/><use href="#gr" x="55.6" y="51.5"/><use href="#gr" x="59.9" y="51.5"/><use href="#gr" x="63.5" y="52.5"/><use href="#gr" x="67.9" y="51.6"/><use href="#gr" x="38.0" y="56.9"/><use href="#gr" x="42.0" y="57.0"/><use href="#gr" x="47.4" y="56.6"/><use href="#gr" x="51.9" y="57.0"/><use href="#gr" x="57.6" y="57.1"/><use href="#gr" x="62.9" y="56.1"/><use href="#gr" x="67.1" y="55.9"/><use href="#gr" x="71.8" y="55.8"/><use href="#gr" x="40.3" y="61.0"/><use href="#gr" x="44.7" y="61.1"/><use href="#gr" x="50.0" y="60.6"/><use href="#gr" x="55.4" y="60.9"/><use href="#gr" x="59.5" y="60.9"/><use href="#gr" x="64.9" y="60.3"/><use href="#gr" x="70.1" y="60.2"/><use href="#gr" x="46.5" y="65.8"/><use href="#gr" x="49.9" y="65.7"/><use href="#gr" x="54.8" y="65.4"/><use href="#gr" x="58.7" y="64.7"/><use href="#gr" x="63.4" y="65.9"/>
<g transform="translate(53.4,47.4)">
 <path d="M0,0 C3.4,0 5.4,2.5 6.1,7 L8.6,28 L9.4,45 L9.4,65.8 L-9.4,65.8 L-9.4,45 L-8.6,28 L-6.1,7 C-5.4,2.5 -3.4,0 0,0 Z" fill="url(#gImp)"/>
 <clipPath id="ic"><path d="M0,0 C3.4,0 5.4,2.5 6.1,7 L8.6,28 L9.4,45 L9.4,65.8 L-9.4,65.8 L-9.4,45 L-8.6,28 L-6.1,7 C-5.4,2.5 -3.4,0 0,0 Z"/></clipPath>
 <g clip-path="url(#ic)" opacity="0.75">
 <path d="M-10,4.0 L10,5.0" stroke="#b0b2b5" stroke-width="0.8"/><path d="M-10,5.3 L10,6.3" stroke="#4a4a4c" stroke-width="0.8"/><path d="M-10,6.6 L10,7.6" stroke="#b0b2b5" stroke-width="0.8"/><path d="M-10,7.9 L10,8.9" stroke="#4a4a4c" stroke-width="0.8"/><path d="M-10,9.2 L10,10.2" stroke="#b0b2b5" stroke-width="0.8"/><path d="M-10,10.5 L10,11.5" stroke="#4a4a4c" stroke-width="0.8"/><path d="M-10,11.8 L10,12.8" stroke="#b0b2b5" stroke-width="0.8"/><path d="M-10,13.1 L10,14.1" stroke="#4a4a4c" stroke-width="0.8"/><path d="M-10,14.4 L10,15.4" stroke="#b0b2b5" stroke-width="0.8"/><path d="M-10,15.7 L10,16.7" stroke="#4a4a4c" stroke-width="0.8"/><path d="M-10,17.0 L10,18.0" stroke="#b0b2b5" stroke-width="0.8"/><path d="M-10,18.3 L10,19.3" stroke="#4a4a4c" stroke-width="0.8"/><path d="M-10,19.6 L10,20.6" stroke="#b0b2b5" stroke-width="0.8"/><path d="M-10,20.9 L10,21.9" stroke="#4a4a4c" stroke-width="0.8"/><path d="M-10,22.2 L10,23.2" stroke="#b0b2b5" stroke-width="0.8"/><path d="M-10,23.5 L10,24.5" stroke="#4a4a4c" stroke-width="0.8"/><path d="M-10,24.8 L10,25.8" stroke="#b0b2b5" stroke-width="0.8"/><path d="M-10,26.1 L10,27.1" stroke="#4a4a4c" stroke-width="0.8"/><path d="M-10,27.4 L10,28.4" stroke="#b0b2b5" stroke-width="0.8"/><path d="M-10,28.7 L10,29.7" stroke="#4a4a4c" stroke-width="0.8"/><path d="M-10,30.0 L10,31.0" stroke="#b0b2b5" stroke-width="0.8"/><path d="M-10,31.3 L10,32.3" stroke="#4a4a4c" stroke-width="0.8"/><path d="M-10,32.6 L10,33.6" stroke="#b0b2b5" stroke-width="0.8"/><path d="M-10,33.9 L10,34.9" stroke="#4a4a4c" stroke-width="0.8"/><path d="M-10,35.2 L10,36.2" stroke="#b0b2b5" stroke-width="0.8"/><path d="M-10,36.5 L10,37.5" stroke="#4a4a4c" stroke-width="0.8"/><path d="M-10,37.8 L10,38.8" stroke="#b0b2b5" stroke-width="0.8"/><path d="M-10,39.1 L10,40.1" stroke="#4a4a4c" stroke-width="0.8"/><path d="M-10,40.4 L10,41.4" stroke="#b0b2b5" stroke-width="0.8"/><path d="M-10,41.7 L10,42.7" stroke="#4a4a4c" stroke-width="0.8"/><path d="M-10,43.0 L10,44.0" stroke="#b0b2b5" stroke-width="0.8"/><path d="M-10,44.3 L10,45.3" stroke="#4a4a4c" stroke-width="0.8"/><path d="M-10,45.6 L10,46.6" stroke="#b0b2b5" stroke-width="0.8"/><path d="M-10,46.9 L10,47.9" stroke="#4a4a4c" stroke-width="0.8"/><path d="M-10,48.2 L10,49.2" stroke="#b0b2b5" stroke-width="0.8"/><path d="M-10,49.5 L10,50.5" stroke="#4a4a4c" stroke-width="0.8"/><path d="M-10,50.8 L10,51.8" stroke="#b0b2b5" stroke-width="0.8"/><path d="M-10,52.1 L10,53.1" stroke="#4a4a4c" stroke-width="0.8"/><path d="M-10,53.4 L10,54.4" stroke="#b0b2b5" stroke-width="0.8"/><path d="M-10,54.7 L10,55.7" stroke="#4a4a4c" stroke-width="0.8"/><path d="M-10,56.0 L10,57.0" stroke="#b0b2b5" stroke-width="0.8"/><path d="M-10,57.3 L10,58.3" stroke="#4a4a4c" stroke-width="0.8"/><path d="M-10,58.6 L10,59.6" stroke="#b0b2b5" stroke-width="0.8"/><path d="M-10,59.9 L10,60.9" stroke="#4a4a4c" stroke-width="0.8"/><path d="M-10,61.2 L10,62.2" stroke="#b0b2b5" stroke-width="0.8"/><path d="M-10,62.5 L10,63.5" stroke="#4a4a4c" stroke-width="0.8"/><path d="M-10,63.8 L10,64.8" stroke="#b0b2b5" stroke-width="0.8"/><path d="M-10,65.1 L10,66.1" stroke="#4a4a4c" stroke-width="0.8"/><path d="M-10,66.4 L10,67.4" stroke="#b0b2b5" stroke-width="0.8"/><path d="M-10,67.7 L10,68.7" stroke="#4a4a4c" stroke-width="0.8"/>
 <path d="M3,3 C6,18 -5,40 -4,58" stroke="#3c3c3e" stroke-width="2.4" fill="none" opacity="0.85"/>
 <path d="M5,6 C8,20 -2,40 -1.5,56" stroke="#a9abae" stroke-width="1" fill="none" opacity="0.7"/>
 </g>
</g>
<rect x="1.8" y="130.4" width="131.7" height="19.6" fill="#ecc09a" opacity="0.45"/></g><rect x="0" y="0" width="137.0" height="155.8" fill="none" stroke="#9a9a9a" stroke-width="1"/></g>

<clipPath id="cbx"><path d="M86.8,13.8 H263.2 A27,28 0 0 1 290.2,41.8 V135.0 A28,27 0 0 1 262.2,162.0 H83.8 A24,31 0 0 1 59.8,131.0 V55.8 A27,42 0 0 1 86.8,13.8 Z"/></clipPath>
<g clip-path="url(#cbx)">
 <rect x="60" y="12" width="232" height="152" fill="#fdf3b6"/>
 <g fill="#f1dfa0"><rect x="97.5" y="132.0" width="17.0" height="22.0" rx="8.5" transform="rotate(15 106.0 143.0)"/><rect x="226.5" y="110.2" width="15.0" height="27.0" rx="7.5" transform="rotate(-50 234.0 123.7)"/><rect x="251.4" y="130.5" width="28.0" height="11.0" rx="5.5" transform="rotate(0 265.4 136.0)"/><rect x="276.2" y="78.0" width="14.0" height="14.0" rx="7.0" transform="rotate(0 283.2 85.0)"/><rect x="277.0" y="59.8" width="12.0" height="4.5" rx="2.2" transform="rotate(0 283.0 62.0)"/><rect x="74.0" y="139.0" width="8.0" height="8.0" rx="4.0" transform="rotate(0 78.0 143.0)"/><rect x="212.0" y="144.2" width="10.0" height="9.0" rx="4.5" transform="rotate(0 217.0 148.7)"/><rect x="74.0" y="97.0" width="6.0" height="6.0" rx="3.0" transform="rotate(0 77.0 100.0)"/><rect x="75.1" y="111.5" width="5.0" height="5.0" rx="2.5" transform="rotate(0 77.6 114.0)"/><rect x="121.0" y="149.0" width="6.0" height="6.0" rx="3.0" transform="rotate(0 124.0 152.0)"/><rect x="257.8" y="80.5" width="6.0" height="6.0" rx="3.0" transform="rotate(0 260.8 83.5)"/><rect x="259.3" y="94.7" width="4.6" height="4.6" rx="2.3" transform="rotate(0 261.6 97.0)"/><rect x="199.2" y="141.5" width="5.0" height="5.0" rx="2.5" transform="rotate(0 201.7 144.0)"/><rect x="58.0" y="135.0" width="8.0" height="10.0" rx="4.0" transform="rotate(0 62.0 140.0)"/><rect x="232.0" y="157.5" width="16.0" height="5.0" rx="2.5" transform="rotate(0 240.0 160.0)"/></g>
 <path d="M72.6,19.9 C73.2,23.4 74.8,34.9 76.0,40.8 C77.2,46.6 78.4,50.7 79.9,55.0 C81.4,59.3 82.7,63.3 84.9,66.6 C87.1,69.9 89.9,72.7 93.2,74.9 C96.5,77.1 101.3,78.9 104.9,79.9 C108.5,80.9 111.2,81.1 114.8,80.7 C118.4,80.3 122.5,78.9 126.4,77.4 C130.3,75.9 134.2,73.2 138.1,71.6 C142.0,69.9 145.7,68.7 149.7,67.5 C153.7,66.3 157.8,65.1 162.0,64.6 C166.2,64.1 170.3,63.8 175.0,64.4 C179.7,65.0 185.1,66.7 190.0,68.0 C194.9,69.3 199.7,71.5 204.6,72.2 C209.5,72.9 214.3,73.1 219.2,72.4 C224.1,71.7 230.0,69.7 234.0,68.2 C238.0,66.7 240.1,65.1 243.0,63.2 C245.9,61.3 248.7,59.4 251.5,56.8 C254.3,54.2 257.4,50.8 260.0,47.8 C262.6,44.8 265.8,40.0 267.0,38.5L274.5,43.0 C273.1,44.8 269.6,49.4 265.8,54.0 C262.0,58.6 257.0,65.2 251.6,70.6 C246.2,76.0 239.7,82.1 233.6,86.6 C227.5,91.1 220.9,94.7 215.0,97.8 C209.1,100.9 200.8,104.0 197.9,105.3 L198,114 L139,120 L139.7,114.5 C138.0,114.1 133.9,113.3 129.8,111.9 C125.7,110.5 120.0,108.7 114.9,106.0 C109.8,103.3 103.7,99.6 99.0,95.7 C94.3,91.8 90.1,87.0 86.6,82.4 C83.1,77.8 80.1,72.9 77.9,68.3 C75.7,63.7 74.6,59.2 73.2,55.0 C71.8,50.8 70.4,45.2 69.8,43.3 Z" fill="#ffffff"/>
 <path d="M60.9,8.5 C61.2,10.5 62.1,16.9 62.6,20.6 C63.2,24.2 63.8,26.6 64.3,30.6 C64.9,34.5 65.2,39.8 66.0,44.1 C66.8,48.4 67.9,51.9 69.2,56.3 C70.5,60.7 71.5,65.5 73.8,70.3 C76.0,75.2 79.0,80.6 82.6,85.5 C86.3,90.3 90.7,95.5 95.7,99.6 C100.7,103.8 107.2,107.6 112.6,110.4 C118.0,113.3 123.9,115.1 128.2,116.6 C132.5,118.1 136.7,118.9 138.4,119.3L141.0,109.7 C139.4,109.2 135.4,108.5 131.4,107.2 C127.5,105.8 122.1,104.1 117.2,101.6 C112.4,99.0 106.7,95.5 102.3,91.8 C97.8,88.1 93.9,83.6 90.6,79.3 C87.2,75.1 84.3,70.6 82.0,66.3 C79.8,62.0 78.6,57.7 77.2,53.7 C75.8,49.7 74.5,46.6 73.6,42.5 C72.7,38.5 72.3,33.3 71.7,29.4 C71.0,25.6 70.4,23.1 69.8,19.4 C69.2,15.8 68.3,9.5 68.1,7.5 Z" fill="#e3a462" stroke="#8a6a45" stroke-width="0.6"/>
 <path d="M200.1,110.3 C203.0,109.1 211.6,106.2 217.7,103.0 C223.9,99.9 230.9,96.2 237.2,91.4 C243.5,86.7 250.2,80.3 255.7,74.6 C261.1,68.9 265.9,62.1 269.7,57.3 C273.5,52.4 275.8,50.2 278.5,45.4 C281.3,40.6 283.7,33.7 286.2,28.4 C288.7,23.2 292.3,16.3 293.5,13.9L286.5,10.1 C285.1,12.5 281.2,19.5 278.6,24.6 C275.9,29.6 273.3,36.2 270.5,40.6 C267.7,44.9 265.7,46.4 261.9,50.7 C258.1,55.1 252.9,61.4 247.5,66.6 C242.2,71.8 235.9,77.5 230.0,81.8 C224.1,86.1 218.0,89.5 212.3,92.6 C206.5,95.7 198.5,99.0 195.7,100.3 Z" fill="#e3a462" stroke="#8a6a45" stroke-width="0.6"/>
 <path d="M70.5,6.0 C70.8,8.3 71.7,14.1 72.6,19.9 C73.5,25.7 74.8,34.9 76.0,40.8 C77.2,46.6 78.4,50.7 79.9,55.0 C81.4,59.3 82.7,63.3 84.9,66.6 C87.1,69.9 89.9,72.7 93.2,74.9 C96.5,77.1 101.3,78.9 104.9,79.9 C108.5,80.9 111.2,81.1 114.8,80.7 C118.4,80.3 122.5,78.9 126.4,77.4 C130.3,75.9 134.2,73.2 138.1,71.6 C142.0,69.9 145.7,68.7 149.7,67.5 C153.7,66.3 157.8,65.1 162.0,64.6 C166.2,64.1 170.3,63.8 175.0,64.4 C179.7,65.0 185.1,66.7 190.0,68.0 C194.9,69.3 199.7,71.5 204.6,72.2 C209.5,72.9 214.3,73.1 219.2,72.4 C224.1,71.7 230.0,69.7 234.0,68.2 C238.0,66.7 240.1,65.1 243.0,63.2 C245.9,61.3 248.7,59.4 251.5,56.8 C254.3,54.2 257.4,50.8 260.0,47.8 C262.6,44.8 264.8,41.7 267.0,38.5 C269.2,35.3 271.2,31.4 273.0,28.5 C274.8,25.6 275.9,23.8 277.5,21.0 C279.1,18.2 281.1,14.8 282.5,12.0 C283.9,9.2 285.4,5.3 286.0,4.0 L290,0 L70,0 Z" fill="url(#gCallPink)"/>
 
    <path d="M152,80 Q150.4,87.8 147.4,90.8 L151.0,95.3 L150.8,98.8 Q145.5,102.5 142.5,105.5 L150.8,110.0 L150.6,113.5 Q142.3,118.7 139.3,121.7 L150.6,126.2 L150.4,129.7 Q140.7,133.3 137.7,136.3 L150.4,140.8 L150.2,144.3 Q139.0,149.5 136.0,152.5 L150.2,157.0 L150.0,160.5 Q138.0,165.0 135.0,168.0 L150.0,172.5 L149.8,176.0 L152,170 Z" fill="#f8ec98" stroke="#c9ad45" stroke-width="0.7"/>
    <path d="M190,80 Q189.9,89.5 192.9,92.5 L192.0,97.0 L192.2,100.5 Q193.1,105.7 196.1,108.7 L192.2,113.2 L192.4,116.7 Q194.7,121.9 197.7,124.9 L192.4,129.4 L192.6,132.9 Q197.0,136.5 200.0,139.5 L192.6,144.0 L192.8,147.5 Q198.9,149.5 201.9,152.5 L192.8,157.0 L193.0,160.5 Q200.0,165.0 203.0,168.0 L193.0,172.5 L193.2,176.0 L190,170 Z" fill="#f8ec98" stroke="#c9ad45" stroke-width="0.7"/>
    <path d="M154.5,77.5 H188.5 L192.9,90 V170 H150.6 V90 Z" fill="url(#gTapBody)"/>
    <path d="M160,84 L180,82 L181.5,170 L158.5,170 Z" fill="#6e560b"/>
    <path d="M161.5,85.1 L176.5,83.7 L179.0,93.2 L159.0,94.6 Z" fill="url(#gCup)" stroke="#4d3a06" stroke-width="0.9"/><path d="M161.3,97.3 L176.8,95.9 L179.3,106.6 L158.8,108.0 Z" fill="url(#gCup)" stroke="#4d3a06" stroke-width="0.9"/><path d="M161.1,110.7 L177.1,109.3 L179.6,121.2 L158.6,122.6 Z" fill="url(#gCup)" stroke="#4d3a06" stroke-width="0.9"/><path d="M160.9,126.5 L177.4,125.1 L179.9,137.1 L158.4,138.5 Z" fill="url(#gCup)" stroke="#4d3a06" stroke-width="0.9"/><path d="M160.7,142.3 L177.7,140.9 L180.2,148.7 L158.2,150.1 Z" fill="url(#gCup)" stroke="#4d3a06" stroke-width="0.9"/><path d="M160.5,157.8 L178.0,156.4 L180.5,165.2 L158.0,166.6 Z" fill="url(#gCup)" stroke="#4d3a06" stroke-width="0.9"/>
    <path d="M168,77.5 H188.5 L190,86.5 L183,90 L178.5,88 L176,80.5 Z" fill="#1d1505"/>
    <path d="M143,151.5 L200,150 L201,155 L143,157 Z" fill="#15120a"/>
    <path d="M160,151 L177,150.6 L177,155.6 L160,156.4 Z" fill="#6d5a1a" opacity="0.85"/>
    
 <path d="M144.2,78.4 Q168,75.6 193.6,78.4 L193.6,72.4 Q168,68.6 144.2,72.4 Z" fill="#e3a462" stroke="#9a7248" stroke-width="0.5"/>
 <path d="M68.1,6.4 C68.5,8.7 69.3,14.5 70.2,20.3 C71.2,26.1 72.5,35.4 73.7,41.3 C75.0,47.2 76.2,51.3 77.8,55.7 C79.4,60.1 80.8,64.3 83.2,67.7 C85.6,71.2 88.6,74.2 92.1,76.5 C95.7,78.8 100.6,80.7 104.4,81.7 C108.2,82.7 111.2,83.0 115.0,82.5 C118.8,82.1 123.1,80.7 127.1,79.1 C131.0,77.6 135.0,74.9 138.8,73.3 C142.7,71.7 146.3,70.4 150.2,69.3 C154.1,68.1 158.1,66.9 162.2,66.4 C166.3,65.9 170.2,65.7 174.8,66.2 C179.3,66.8 184.6,68.5 189.5,69.8 C194.4,71.2 199.3,73.4 204.3,74.1 C209.3,74.9 214.4,75.0 219.5,74.3 C224.5,73.6 230.6,71.6 234.7,70.0 C238.8,68.4 241.0,66.8 244.1,64.8 C247.1,62.9 249.9,60.9 252.8,58.3 C255.8,55.7 258.9,52.2 261.5,49.1 C264.2,46.0 266.5,42.9 268.7,39.6 C270.9,36.4 273.0,32.5 274.8,29.6 C276.6,26.6 277.7,24.8 279.3,22.0 C280.9,19.3 282.9,15.8 284.4,12.9 C285.8,10.1 287.3,6.2 287.9,4.8L284.1,3.2 C283.5,4.5 282.0,8.3 280.6,11.1 C279.2,13.9 277.3,17.2 275.7,20.0 C274.1,22.7 272.9,24.5 271.2,27.4 C269.5,30.3 267.4,34.2 265.3,37.4 C263.2,40.5 261.0,43.5 258.5,46.5 C256.0,49.5 252.9,52.8 250.2,55.3 C247.4,57.8 244.7,59.7 241.9,61.6 C239.1,63.4 237.1,64.9 233.3,66.4 C229.5,67.9 223.7,69.8 218.9,70.5 C214.2,71.1 209.6,71.0 204.9,70.3 C200.1,69.6 195.4,67.4 190.5,66.2 C185.5,64.9 180.0,63.1 175.2,62.6 C170.4,62.0 166.1,62.2 161.8,62.8 C157.4,63.3 153.2,64.5 149.2,65.7 C145.1,66.9 141.3,68.2 137.4,69.9 C133.5,71.6 129.5,74.2 125.7,75.7 C121.9,77.2 118.0,78.5 114.6,78.9 C111.2,79.3 108.8,79.0 105.4,78.1 C102.0,77.2 97.4,75.4 94.3,73.3 C91.1,71.2 88.6,68.7 86.6,65.5 C84.5,62.3 83.4,58.5 82.0,54.3 C80.6,50.1 79.4,46.1 78.3,40.3 C77.1,34.5 75.9,25.3 75.0,19.5 C74.1,13.7 73.2,8.0 72.9,5.6 Z" fill="#20af4e"/>
 <path d="M170,55 V69.5" stroke="#555" stroke-width="0.8"/><path d="M170,72 L168,66.5 L172,66.5 Z" fill="#555"/>
</g>
<path d="M86.8,13.8 H263.2 A27,28 0 0 1 290.2,41.8 V135.0 A28,27 0 0 1 262.2,162.0 H83.8 A24,31 0 0 1 59.8,131.0 V55.8 A27,42 0 0 1 86.8,13.8 Z" fill="none" stroke="#c8202c" stroke-width="1.3"/>
<path d="M275.3,159.3 L302,187.8 M323.9,214.3 L362.6,256.2" stroke="#c8202c" stroke-width="1.15" fill="none"/>

<clipPath id="cin"><circle cx="462.0" cy="108.2" r="60.3"/></clipPath>
<clipPath id="cbone"><path d="M428.0,45.0 C427.7,47.7 427.0,55.8 426.0,61.2 C425.0,66.6 422.4,72.1 421.9,77.5 C421.3,82.9 421.9,88.8 422.7,93.7 C423.5,98.6 425.2,103.2 426.8,106.7 C428.4,110.2 430.1,112.6 432.5,115.0 C434.9,117.4 437.8,119.3 441.0,121.0 C444.2,122.7 447.8,124.5 452.0,125.2 C456.2,126.0 461.4,126.2 466.0,125.5 C470.6,124.8 475.9,123.3 479.9,121.2 C483.9,119.1 486.9,116.2 490.0,113.0 C493.1,109.8 496.0,106.2 498.5,102.0 C501.0,97.8 503.2,92.7 505.0,88.0 C506.8,83.3 508.1,78.8 509.3,74.1 C510.5,69.4 511.4,64.8 512.0,60.0 C512.6,55.1 512.8,47.5 513.0,45.0 Z"/></clipPath>
<g clip-path="url(#cin)">
 <rect x="400" y="46" width="125" height="125" fill="url(#gTanC)"/>
 <path d="M428.0,45.0 C427.7,47.7 427.0,55.8 426.0,61.2 C425.0,66.6 422.4,72.1 421.9,77.5 C421.3,82.9 421.9,88.8 422.7,93.7 C423.5,98.6 425.2,103.2 426.8,106.7 C428.4,110.2 430.1,112.6 432.5,115.0 C434.9,117.4 437.8,119.3 441.0,121.0 C444.2,122.7 447.8,124.5 452.0,125.2 C456.2,126.0 461.4,126.2 466.0,125.5 C470.6,124.8 475.9,123.3 479.9,121.2 C483.9,119.1 486.9,116.2 490.0,113.0 C493.1,109.8 496.0,106.2 498.5,102.0 C501.0,97.8 503.2,92.7 505.0,88.0 C506.8,83.3 508.1,78.8 509.3,74.1 C510.5,69.4 511.4,64.8 512.0,60.0 C512.6,55.1 512.8,47.5 513.0,45.0 Z" fill="#fdf1b9" stroke="#d7a16c" stroke-width="2.2"/>
 <g clip-path="url(#cbone)" fill="#e0c293"><rect x="430.8" y="62.0" width="4.5" height="8.0" rx="2.2" transform="rotate(-20 433.0 66.0)"/><rect x="435.9" y="77.5" width="3.2" height="9.0" rx="1.6" transform="rotate(0 437.5 82.0)"/><rect x="430.0" y="94.5" width="8.0" height="5.0" rx="2.5" transform="rotate(10 434.0 97.0)"/><rect x="443.2" y="95.5" width="5.5" height="7.0" rx="2.8" transform="rotate(20 446.0 99.0)"/><rect x="441.2" y="106.5" width="4.5" height="7.0" rx="2.2" transform="rotate(20 443.5 110.0)"/><rect x="480.5" y="85.2" width="7.0" height="5.5" rx="2.8" transform="rotate(-40 484.0 88.0)"/><rect x="488.0" y="90.3" width="8.0" height="3.4" rx="1.7" transform="rotate(10 492.0 92.0)"/><rect x="495.5" y="74.0" width="7.0" height="4.0" rx="2.0" transform="rotate(0 499.0 76.0)"/><rect x="482.5" y="103.3" width="7.0" height="3.4" rx="1.7" transform="rotate(0 486.0 105.0)"/><rect x="494.9" y="98.0" width="2.2" height="6.0" rx="1.1" transform="rotate(0 496.0 101.0)"/><rect x="448.9" y="87.5" width="2.2" height="5.0" rx="1.1" transform="rotate(0 450.0 90.0)"/><rect x="478.0" y="110.8" width="6.0" height="4.5" rx="2.2" transform="rotate(0 481.0 113.0)"/><rect x="503.2" y="68.2" width="3.5" height="3.5" rx="1.8" transform="rotate(0 505.0 70.0)"/><rect x="426.9" y="73.0" width="2.2" height="6.0" rx="1.1" transform="rotate(0 428.0 76.0)"/><rect x="445.0" y="116.2" width="6.0" height="3.5" rx="1.8" transform="rotate(0 448.0 118.0)"/><rect x="428.5" y="86.5" width="3.0" height="3.0" rx="1.5" transform="rotate(0 430.0 88.0)"/><rect x="477.5" y="95.5" width="3.0" height="3.0" rx="1.5" transform="rotate(0 479.0 97.0)"/><rect x="500.5" y="85.5" width="3.0" height="5.0" rx="1.5" transform="rotate(20 502.0 88.0)"/><rect x="438.5" y="70.5" width="3.0" height="3.0" rx="1.5" transform="rotate(0 440.0 72.0)"/><rect x="450.5" y="102.5" width="3.0" height="3.0" rx="1.5" transform="rotate(0 452.0 104.0)"/><circle cx="444.5" cy="93.7" r="0.8"/><circle cx="502.8" cy="89.4" r="0.5"/><circle cx="476.1" cy="116.3" r="1.0"/><circle cx="446.3" cy="74.5" r="1.0"/><circle cx="470.5" cy="94.1" r="1.0"/><circle cx="479.0" cy="69.3" r="0.6"/><circle cx="498.7" cy="92.4" r="0.5"/><circle cx="481.7" cy="64.0" r="0.5"/><circle cx="449.9" cy="61.9" r="0.8"/><circle cx="464.7" cy="104.6" r="1.0"/><circle cx="485.4" cy="117.1" r="1.0"/><circle cx="486.6" cy="95.8" r="0.6"/><circle cx="499.6" cy="66.0" r="0.6"/><circle cx="466.6" cy="76.0" r="1.0"/><circle cx="491.0" cy="113.0" r="1.0"/><circle cx="467.6" cy="83.9" r="0.8"/><circle cx="469.9" cy="85.3" r="0.6"/><circle cx="501.8" cy="102.3" r="0.5"/><circle cx="497.7" cy="121.4" r="0.6"/><circle cx="484.1" cy="80.2" r="0.5"/><circle cx="485.4" cy="73.1" r="0.8"/><circle cx="448.5" cy="63.9" r="1.0"/><circle cx="431.6" cy="109.6" r="1.0"/><circle cx="501.2" cy="61.2" r="1.0"/><circle cx="490.1" cy="114.1" r="0.5"/><circle cx="476.0" cy="107.2" r="1.0"/><circle cx="485.8" cy="80.5" r="0.8"/><circle cx="467.5" cy="121.9" r="0.8"/><circle cx="424.6" cy="66.7" r="0.5"/><circle cx="505.6" cy="120.2" r="0.8"/><circle cx="476.5" cy="69.7" r="0.5"/><circle cx="508.3" cy="81.1" r="0.8"/><circle cx="506.4" cy="115.6" r="1.0"/><circle cx="456.4" cy="113.9" r="1.0"/><circle cx="479.4" cy="96.9" r="0.5"/><circle cx="477.3" cy="118.3" r="0.8"/><circle cx="461.1" cy="104.7" r="0.6"/><circle cx="504.5" cy="87.1" r="0.8"/><circle cx="468.8" cy="94.0" r="0.5"/><circle cx="491.8" cy="121.2" r="0.8"/></g>
 <path d="M441.8,42.0 C441.9,43.6 442.0,48.3 442.2,51.6 C442.4,54.9 442.6,58.7 443.1,61.6 C443.7,64.5 444.2,67.1 445.5,68.8 C446.8,70.5 449.2,71.4 451.0,71.5 C452.8,71.6 454.5,69.9 456.5,69.3 C458.5,68.7 461.0,67.9 463.2,67.7 C465.4,67.5 468.0,67.8 469.8,68.2 C471.6,68.7 472.4,69.9 474.2,70.4 C476.0,70.9 478.7,71.6 480.9,71.3 C483.1,71.0 485.7,70.0 487.5,68.8 C489.3,67.5 490.6,65.5 491.9,63.8 C493.2,62.1 494.1,60.6 495.3,58.8 C496.5,57.0 497.7,55.3 499.0,53.0 C500.3,50.7 502.3,46.3 503.0,45.0 Z" fill="none" stroke="#d7a16c" stroke-width="6.6"/>
 <path d="M440.0,48.0 C440.1,49.7 440.1,54.8 440.5,58.3 C440.9,61.8 441.2,66.2 442.2,69.3 C443.2,72.4 444.6,75.1 446.6,77.1 C448.6,79.1 451.2,80.5 454.3,81.5 C457.4,82.5 461.5,83.2 465.0,83.0 C468.5,82.8 472.0,81.8 475.4,80.4 C478.8,79.1 482.4,77.1 485.3,74.9 C488.2,72.7 491.1,69.3 493.1,67.1 C495.1,64.9 496.2,63.6 497.5,61.6 C498.8,59.6 500.4,56.1 501.0,55.0 L503,45 L439,45 Z" fill="#f8dcb2" stroke="#d7a16c" stroke-width="2.4"/>
 <path d="M441.8,42.0 C441.9,43.6 442.0,48.3 442.2,51.6 C442.4,54.9 442.6,58.7 443.1,61.6 C443.7,64.5 444.2,67.1 445.5,68.8 C446.8,70.5 449.2,71.4 451.0,71.5 C452.8,71.6 454.5,69.9 456.5,69.3 C458.5,68.7 461.0,67.9 463.2,67.7 C465.4,67.5 468.0,67.8 469.8,68.2 C471.6,68.7 472.4,69.9 474.2,70.4 C476.0,70.9 478.7,71.6 480.9,71.3 C483.1,71.0 485.7,70.0 487.5,68.8 C489.3,67.5 490.6,65.5 491.9,63.8 C493.2,62.1 494.1,60.6 495.3,58.8 C496.5,57.0 497.7,55.3 499.0,53.0 C500.3,50.7 502.3,46.3 503.0,45.0 Z" fill="url(#gPinkC)" stroke="#20af4e" stroke-width="3"/>
 <g transform="translate(464.9,77.2) rotate(1.9)">
  <rect x="-9.8" y="0" width="19.5" height="76" fill="#ffffff" stroke="#c9c9c9" stroke-width="0.6"/>
  <clipPath id="bd"><path d="M-4.6,14.5 Q0,11.5 5.5,12.5 L8.8,17 L9.2,78 L-9.7,78 L-7.2,20 Z"/></clipPath>
  <path d="M-4.6,14.5 Q0,11.5 5.5,12.5 L8.8,17 L9.2,78 L-9.7,78 L-7.2,20 Z" fill="url(#gYel)"/>
  <g clip-path="url(#bd)" fill="#1c1a17"><path d="M-11,30.5 L11,27.5 L11,33.1 L-11,36.1 Z"/><path d="M-11,41.0 L11,38.0 L11,43.2 L-11,46.2 Z"/><path d="M-11,50.6 L11,47.6 L11,51.6 L-11,54.6 Z"/><path d="M-11,59.9 L11,56.9 L11,62.1 L-11,65.1 Z"/><path d="M-11,67.39999999999999 L11,64.39999999999999 L11,67.8 L-11,70.8 Z"/>
   <path d="M-2,13 C2,22 4,30 9.5,38 L9.5,31 C6,25 4,19 2.5,12 Z" fill="#3a3010" opacity="0.55"/>
   <path d="M-9.5,34 C-5,46 0,56 4.5,78 L-0.5,78 C-3,62 -7,52 -9.5,46 Z" fill="#3a3010" opacity="0.5"/>
  </g>
  <rect x="-5.8" y="78" width="11" height="16" fill="url(#gSteel)"/>
 </g>
</g>
<circle cx="462.0" cy="108.2" r="60.3" fill="none" stroke="#6a6a6a" stroke-width="0.9"/>

<path d="M541.3,105.8 L526.2,105.2 Q536,108.8 541.3,116.5 Z" fill="#d2d3d5"/>
<rect x="541" y="84" width="197.3" height="68.8" rx="11" fill="#d2d3d5"/>

<path d="M461.8,234.6 C462.4,233.4 464.3,229.8 465.5,227.4 C466.7,225.0 467.3,223.0 469.0,220.2 C470.7,217.3 473.1,213.3 475.7,210.1 C478.2,206.9 481.4,203.5 484.3,200.9 C487.3,198.3 490.2,196.3 493.2,194.4 C496.1,192.4 498.5,190.8 502.1,189.2 C505.7,187.6 510.2,186.2 514.7,184.8 C519.2,183.5 523.3,182.2 529.2,181.0 C535.1,179.7 546.8,178.0 550.3,177.3L550.3,177.1 C546.7,177.5 535.0,178.9 529.0,180.0 C523.0,181.1 518.9,182.3 514.3,183.6 C509.7,184.9 505.2,186.3 501.5,187.8 C497.8,189.4 495.3,191.0 492.2,192.8 C489.1,194.7 486.0,196.6 482.9,199.1 C479.7,201.7 476.2,204.9 473.3,208.1 C470.4,211.2 467.6,215.1 465.6,218.0 C463.6,221.0 462.5,223.0 461.5,225.6 C460.5,228.2 459.8,232.4 459.4,233.8 Z" fill="#3f3e3d"/>
<path d="M428.1,203.8 C429.7,204.6 434.7,206.8 437.8,208.9 C440.8,211.0 443.8,213.8 446.4,216.4 C449.0,219.1 451.4,222.4 453.1,224.7 C454.8,227.0 455.6,228.6 456.7,230.3 C457.8,232.0 459.3,234.0 459.8,234.8L462.0,233.6 C461.7,232.7 460.9,230.2 459.9,228.3 C458.9,226.5 457.8,224.8 455.9,222.5 C453.9,220.2 451.1,217.1 448.2,214.6 C445.3,212.1 441.9,209.4 438.6,207.5 C435.3,205.7 430.0,204.1 428.3,203.4 Z" fill="#3f3e3d"/>
<path d="M457.6,229.5 L460.9,235.6 L464.2,228.5 Z" fill="#3f3e3d"/>

<path d="M475.7,404.1 H529.5 V388 C530.3,393.5 534,400.5 540.6,404.1 H603 A12,12 0 0 1 615.2,416.2 V438.7 A12,12 0 0 1 603,450.8 H475.7 A12,12 0 0 1 463.7,438.7 V416.2 A12,12 0 0 1 475.7,404.1 Z" fill="#ffffff" stroke="#b9a35c" stroke-width="1.1"/>

<text x="62.1" y="375.5" font-size="15" fill="#231f20" font-weight="bold" textLength="71.1" lengthAdjust="spacingAndGlyphs" >Point Drill</text><text x="222.7" y="375.5" font-size="15" fill="#231f20" font-weight="bold" textLength="66.4" lengthAdjust="spacingAndGlyphs" >Ø2.2 Drill</text><text x="380.8" y="375.4" font-size="15" fill="#231f20" font-weight="bold" textLength="65.4" lengthAdjust="spacingAndGlyphs" >Ø3.6 Tap</text><text x="534.7" y="368.5" font-size="10.6" fill="#231f20" font-weight="bold" textLength="44" lengthAdjust="spacingAndGlyphs" >Костный</text><text x="535.2" y="380.6" font-size="10.6" fill="#231f20" font-weight="bold" textLength="69.4" lengthAdjust="spacingAndGlyphs" >трансплантат</text><text x="642.3" y="371.7" font-size="10.6" fill="#231f20" font-weight="bold" textLength="115.6" lengthAdjust="spacingAndGlyphs" >Установка имплантата</text><text x="0" y="402.2" font-size="13.3" fill="#a69952" textLength="122" lengthAdjust="spacingAndGlyphs" stroke="#a69952" stroke-width="0.3">Drill Speed : 800~2,000 rpm</text><text x="156.6" y="402.2" font-size="13.3" fill="#a69952" textLength="122" lengthAdjust="spacingAndGlyphs" stroke="#a69952" stroke-width="0.3">Drill Speed : 800~2,000 rpm</text><text x="313.4" y="401.6" font-size="13.3" fill="#a69952" textLength="102.8" lengthAdjust="spacingAndGlyphs" stroke="#a69952" stroke-width="0.3">Drill Speed : 20~30 rpm</text><text x="313.4" y="416.5" font-size="13.3" fill="#a69952" textLength="69" lengthAdjust="spacingAndGlyphs" stroke="#a69952" stroke-width="0.3">Torque : 45N.cm</text><text x="83.5" y="28" font-size="10.8" fill="#231f20" textLength="183.6" lengthAdjust="spacingAndGlyphs" >Фрагмент компактной костной ткани</text><text x="83.9" y="39.8" font-size="10.8" fill="#231f20" textLength="149.3" lengthAdjust="spacingAndGlyphs" >после перфорации с помощью</text><text x="83.9" y="51.6" font-size="10.8" fill="#231f20" textLength="81.4" lengthAdjust="spacingAndGlyphs" >сверла-метчика.</text><text x="279" y="16.6" font-size="13.2" fill="#14a652" textLength="92" lengthAdjust="spacingAndGlyphs" stroke="#14a652" stroke-width="0.3">Sinus Membrane</text><text x="290.1" y="31.2" font-size="13.2" fill="#c48a55" textLength="71.2" lengthAdjust="spacingAndGlyphs" stroke="#c48a55" stroke-width="0.3">Cortical Bone</text><text x="186.4" y="206.5" font-size="15.2" fill="#d2403c" textLength="229.8" lengthAdjust="spacingAndGlyphs" >Рекомендуемый подъем – до 3 мм</text><text x="426.9" y="188.7" font-size="15" fill="#231f20" font-weight="bold" textLength="69.6" lengthAdjust="spacingAndGlyphs" >Ø3.6 Drill</text><text x="553.4" y="102.5" font-size="10.7" fill="#231f20" textLength="163" lengthAdjust="spacingAndGlyphs" >При установке имплантата Ø4.2 ~</text><text x="553.4" y="114.8" font-size="10.7" fill="#231f20" textLength="177" lengthAdjust="spacingAndGlyphs" >Ø4.5 используйте финишное сверло</text><text x="553.4" y="138.8" font-size="10.9" fill="#ee1c24" textLength="170.5" lengthAdjust="spacingAndGlyphs" stroke="#ee1c24" stroke-width="0.25">(скорость вращения до 30 об/мин).</text><text x="558.1" y="170.9" font-size="13.3" fill="#a69952" textLength="102.9" lengthAdjust="spacingAndGlyphs" stroke="#a69952" stroke-width="0.3">Drill Speed : 20~30 rpm</text><text x="558.1" y="185.5" font-size="13.3" fill="#a69952" textLength="69.4" lengthAdjust="spacingAndGlyphs" stroke="#a69952" stroke-width="0.3">Torque : 45N.cm</text><text x="475.6" y="420.2" font-size="10.6" fill="#231f20" font-weight="bold" textLength="120.6" lengthAdjust="spacingAndGlyphs" >Костный трансплантат,</text><text x="475.6" y="431.7" font-size="10.6" fill="#231f20" font-weight="bold" textLength="96" lengthAdjust="spacingAndGlyphs" >взятый с помощью</text><text x="475.6" y="443.2" font-size="10.6" fill="#231f20" font-weight="bold" textLength="81" lengthAdjust="spacingAndGlyphs" >остеотома и т.п.</text><text x="618.7" y="445.2" font-size="12" fill="#454545" textLength="147.2" lengthAdjust="spacingAndGlyphs" >* Дополнительное оборудование</text>
</svg>
</body></html>
